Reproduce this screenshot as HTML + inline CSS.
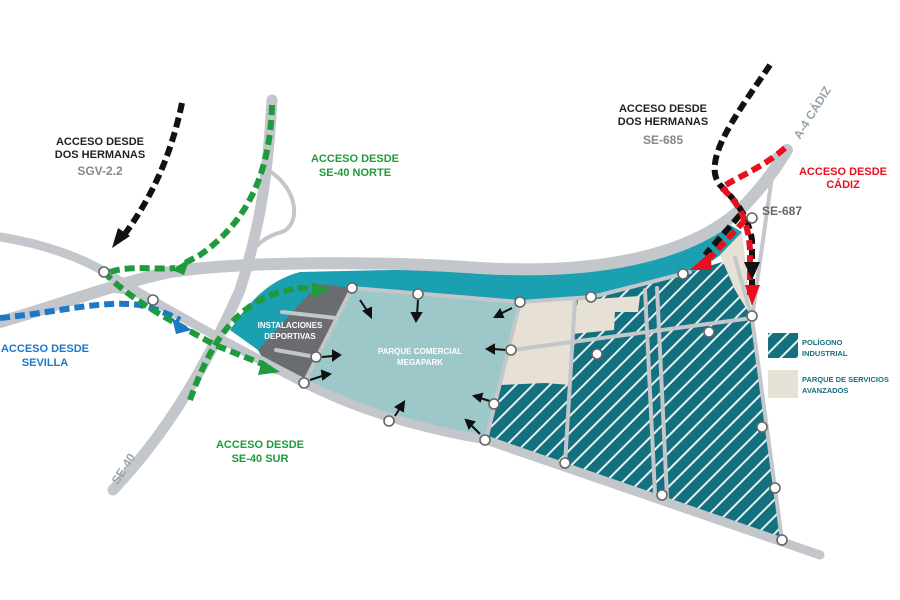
<!DOCTYPE html>
<html><head><meta charset="utf-8"><style>
html,body{margin:0;padding:0;background:#fff;}
svg{display:block;}
text{font-family:"Liberation Sans",sans-serif;font-weight:bold;}
</style></head><body>
<svg width="900" height="600" viewBox="0 0 900 600" xmlns="http://www.w3.org/2000/svg">
<defs>
<pattern id="h" patternUnits="userSpaceOnUse" width="12" height="12" patternTransform="rotate(45)">
<rect width="12" height="12" fill="#13707e"/>
<rect x="0" y="0" width="2" height="12" fill="#ffffff" opacity="0.9"/>
</pattern>
</defs>
<rect width="900" height="600" fill="#fff"/>

<path d="M230,330 C250,300 270,280 300,272 L480,268 C600,270 680,255 730,225 L742,232 C720,265 680,282 600,295 L520,302 L352,288 L300,380 Z" fill="#1aa0b0"/>

<path d="M352,288 L520,302 L500,385 L486,440 Q380,422 304,383 Z" fill="#9dc8ca"/>
<path d="M318,284 L352,288 L318,360 L304,383 L270,372 L258,350 Z" fill="#6b6c70"/>

<path d="M690,272 L735,258 L752,318 L782,540 L486,440 L500,385 L510,350 L520,302 L600,295 Z" fill="url(#h)"/>
<path d="M520,302 L575,300 L570,385 L545,383 L500,385 L510,350 Z" fill="#e7e0d4"/>
<path d="M578,300 L640,296 L638,312 L615,312 L614,330 L572,334 Z" fill="#e7e0d4"/>
<path d="M720,255 L742,232 L752,318 L735,290 Z" fill="#e7e0d4"/>

<g fill="none" stroke="#c3c6ca" stroke-linecap="round">
<path d="M0,237 C50,245 85,260 105,272 C150,300 230,345 304,383 Q380,422 486,440 L820,555" stroke-width="9"/>
<path d="M0,322 C60,305 110,285 170,272 C250,260 400,262 480,268 C600,275 690,255 740,210 C760,190 775,170 787,150" stroke-width="12"/>
<path d="M272,100 C268,170 262,220 240,290 C200,380 160,440 113,490" stroke-width="11"/>
<path d="M268,170 C300,190 300,225 282,232 C258,238 245,258 250,262" stroke-width="4"/>
<path d="M100,290 C130,290 150,300 175,312" stroke-width="4"/>
<path d="M352,288 L520,302 L592,297 L690,272" stroke-width="4"/>
<path d="M352,288 L304,383" stroke-width="4"/>
<path d="M336,318 L282,312 M316,357 L276,350" stroke-width="4"/>
<path d="M520,302 L486,440" stroke-width="4"/>
<path d="M575,300 L565,464" stroke-width="4"/>
<path d="M645,290 L655,494 M657,288 L667,497" stroke-width="4"/>
<path d="M512,350 L752,318" stroke-width="4"/>
<path d="M752,318 L782,540 M735,258 L752,318 M752,318 L775,155" stroke-width="4"/>
</g>

<g fill="none" stroke-width="6" stroke-dasharray="10,5">
<path d="M182,103 C170,160 150,200 122,238" stroke="#111"/>
<path d="M770,65 C740,110 700,160 720,185 C735,200 748,215 752,240 L752,290" stroke="#111"/>
<path d="M740,215 L705,255" stroke="#111"/>
<path d="M785,148 C760,170 730,180 722,188 C735,200 748,215 750,250 L750,295" stroke="#e8101f"/>
<path d="M745,220 L710,258" stroke="#e8101f"/>
<path d="M0,318 C60,312 100,300 140,305 C160,310 170,315 180,320" stroke="#1c78c9"/>
<path d="M272,105 C270,170 250,220 200,255 L185,263" stroke="#1f9a3c"/>
<path d="M110,272 C130,265 160,270 175,268" stroke="#1f9a3c"/>
<path d="M104,272 C130,300 170,320 215,345 L265,365" stroke="#1f9a3c"/>
<path d="M190,400 C215,330 245,295 300,288 L325,290" stroke="#1f9a3c"/>
</g>
<polygon points="112,248 130,236 118,228" fill="#111"/>
<polygon points="172,270 190,258 184,275" fill="#1f9a3c"/>
<polygon points="192,330 172,318 176,334" fill="#1c78c9"/>
<polygon points="280,372 262,360 258,375" fill="#1f9a3c"/>
<polygon points="330,290 312,282 312,298" fill="#1f9a3c"/>
<polygon points="752,306 745,285 760,285" fill="#e8101f"/>
<polygon points="690,270 710,252 712,270" fill="#e8101f"/>
<polygon points="752,280 744,262 760,262" fill="#111"/>

<g stroke="#111" stroke-width="2" fill="#111">
<path d="M360,300 L368,312" /><polygon points="371,317 364,311 371,308"/>
<path d="M418,300 L417,315"/><polygon points="416,321 412,313 421,313"/>
<path d="M512,308 L500,314"/><polygon points="495,317 500,310 503,317"/>
<path d="M507,350 L493,349"/><polygon points="487,349 494,345 494,353"/>
<path d="M493,402 L480,398"/><polygon points="474,396 482,394 480,401"/>
<path d="M480,434 L472,426"/><polygon points="466,420 474,422 469,428"/>
<path d="M395,416 L400,408"/><polygon points="404,402 403,411 396,407"/>
<path d="M322,357 L333,356"/><polygon points="340,355 333,351 333,360"/>
<path d="M310,380 L322,376"/><polygon points="330,374 322,371 323,379"/>
</g>

<g fill="#fff" stroke="#666" stroke-width="1.6">
<circle cx="104" cy="272" r="5"/><circle cx="153" cy="300" r="5"/>
<circle cx="352" cy="288" r="5"/><circle cx="418" cy="294" r="5"/>
<circle cx="520" cy="302" r="5"/><circle cx="591" cy="297" r="5"/>
<circle cx="683" cy="274" r="5"/><circle cx="752" cy="316" r="5"/>
<circle cx="511" cy="350" r="5"/><circle cx="597" cy="354" r="5"/>
<circle cx="709" cy="332" r="5"/><circle cx="316" cy="357" r="5"/>
<circle cx="304" cy="383" r="5"/><circle cx="389" cy="421" r="5"/>
<circle cx="494" cy="404" r="5"/><circle cx="485" cy="440" r="5"/>
<circle cx="565" cy="463" r="5"/><circle cx="662" cy="495" r="5"/>
<circle cx="762" cy="427" r="5"/><circle cx="775" cy="488" r="5"/>
<circle cx="782" cy="540" r="5"/><circle cx="752" cy="218" r="5"/>
</g>

<g font-size="11">
<text x="100" y="145" text-anchor="middle" fill="#222">ACCESO DESDE</text>
<text x="100" y="158" text-anchor="middle" fill="#222">DOS HERMANAS</text>
<text x="100" y="175" text-anchor="middle" fill="#888" font-weight="normal" font-size="12">SGV-2.2</text>
<text x="355" y="162" text-anchor="middle" fill="#1f9a3c">ACCESO DESDE</text>
<text x="355" y="176" text-anchor="middle" fill="#1f9a3c">SE-40 NORTE</text>
<text x="45" y="352" text-anchor="middle" fill="#1c78c9">ACCESO DESDE</text>
<text x="45" y="366" text-anchor="middle" fill="#1c78c9">SEVILLA</text>
<text x="260" y="448" text-anchor="middle" fill="#1f9a3c">ACCESO DESDE</text>
<text x="260" y="462" text-anchor="middle" fill="#1f9a3c">SE-40 SUR</text>
<text x="663" y="112" text-anchor="middle" fill="#222">ACCESO DESDE</text>
<text x="663" y="125" text-anchor="middle" fill="#222">DOS HERMANAS</text>
<text x="663" y="144" text-anchor="middle" fill="#888" font-weight="normal" font-size="12">SE-685</text>
<text x="843" y="175" text-anchor="middle" fill="#e8101f">ACCESO DESDE</text>
<text x="843" y="188" text-anchor="middle" fill="#e8101f">CÁDIZ</text>
<text x="762" y="215" fill="#666" font-weight="normal" font-size="12">SE-687</text>
<text x="800" y="140" fill="#9aa4ac" font-size="12" transform="rotate(-58 800 140)">A-4 CÁDIZ</text>
<text x="118" y="485" fill="#9aa4ac" font-size="12" font-weight="normal" transform="rotate(-58 118 485)">SE-40</text>
<text x="290" y="328" text-anchor="middle" fill="#fff" font-size="8">INSTALACIONES</text>
<text x="290" y="339" text-anchor="middle" fill="#fff" font-size="8">DEPORTIVAS</text>
<text x="420" y="354" text-anchor="middle" fill="#fff" font-size="8">PARQUE COMERCIAL</text>
<text x="420" y="365" text-anchor="middle" fill="#fff" font-size="8">MEGAPARK</text>
<text x="802" y="345" fill="#1a6f80" font-size="7.5">POLÍGONO</text>
<text x="802" y="356" fill="#1a6f80" font-size="7.5">INDUSTRIAL</text>
<text x="802" y="382" fill="#1a6f80" font-size="7.5">PARQUE DE SERVICIOS</text>
<text x="802" y="393" fill="#1a6f80" font-size="7.5">AVANZADOS</text>
</g>
<rect x="768" y="333" width="30" height="25" fill="url(#h)"/>
<rect x="768" y="370" width="30" height="28" fill="#e7e0d4"/>
</svg>
</body></html>
